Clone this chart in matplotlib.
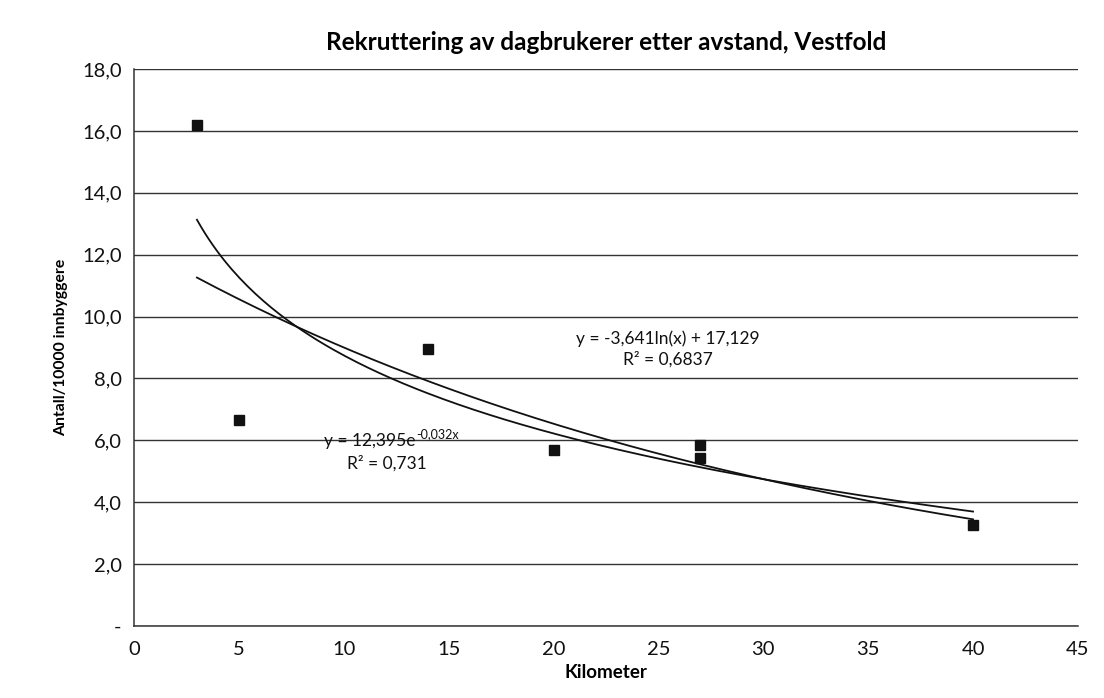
#!/usr/bin/env python3
# -*- coding: utf-8 -*-
"""
Rekruttering av dagbrukerer etter avstand, Vestfold.
Scatter with logarithmic and exponential trend lines.
"""

import numpy as np
import matplotlib
matplotlib.use('Agg')
import matplotlib.pyplot as plt
from matplotlib.ticker import FuncFormatter

# Data
km = [3, 5, 14, 20, 27, 27, 40]
antall = [16.2, 6.65, 8.95, 5.7, 5.85, 5.42, 3.27]

# Trend line coefficients as printed on the chart
log_a, log_b = -3.641, 17.129      # y = a ln(x) + b
exp_c, exp_k = 12.395, -0.032      # y = c e^(kx)
log_label = 'y = -3,641ln(x) + 17,129\nR² = 0,6837'
exp_base = 'y = 12,395e'
exp_sup = '-0,032x'
exp_r2 = 'R² = 0,731'

plt.rcParams['font.family'] = ['Lato', 'DejaVu Sans']

fig = plt.figure(figsize=(11.04, 6.98), dpi=100)
ax = fig.add_axes([0.1214, 0.1032, 0.855, 0.7979])

# trend lines over the data range
xs = np.linspace(min(km), max(km), 200)
ax.plot(xs, log_a * np.log(xs) + log_b, color='#111111', lw=1.3, zorder=3)
ax.plot(xs, exp_c * np.exp(exp_k * xs), color='#111111', lw=1.3, zorder=3)

ax.plot(km, antall, 's', color='#111111', markersize=7, zorder=4)

ax.set_xlim(0, 45)
ax.set_ylim(0, 18)
ax.set_xticks(range(0, 46, 5))
ax.set_yticks(np.arange(0, 18.1, 2))
ax.yaxis.set_major_formatter(FuncFormatter(
    lambda v, p: '-' if v == 0 else f'{v:.1f}'.replace('.', ',')))
ax.tick_params(length=0, labelsize=14.5, colors='#111111')
ax.tick_params(axis='y', pad=9)
ax.tick_params(axis='x', pad=11)
ax.grid(axis='y', color='#333333', lw=1.0)
ax.set_axisbelow(True)
for s in ['top', 'right']:
    ax.spines[s].set_visible(False)
for s in ['left', 'bottom']:
    ax.spines[s].set_color('#333333')
    ax.spines[s].set_linewidth(1.1)

ax.set_title('Rekruttering av dagbrukerer etter avstand, Vestfold',
             fontsize=17.5, fontweight='bold', pad=14)
ax.set_xlabel('Kilometer', fontsize=13.5, fontweight='bold', labelpad=4)
ax.set_ylabel('Antall/10000 innbyggere', fontsize=11.3, fontweight='bold', labelpad=10)

ax.text(25.45, 8.95, log_label, ha='center', va='center', fontsize=12.5,
        linespacing=1.3, color='#111111')
t1 = ax.text(13.4, 5.98, exp_base, ha='right', va='center', fontsize=12.5,
             color='#111111')
ax.annotate(exp_sup, xy=(1, 0.55), xycoords=t1, xytext=(1, 0),
            textcoords='offset points', ha='left', va='bottom',
            fontsize=9, color='#111111')
ax.text(12.05, 5.25, exp_r2, ha='center', va='center', fontsize=12.5, color='#111111')

fig.savefig('out.png', dpi=100)
plt.close(fig)
